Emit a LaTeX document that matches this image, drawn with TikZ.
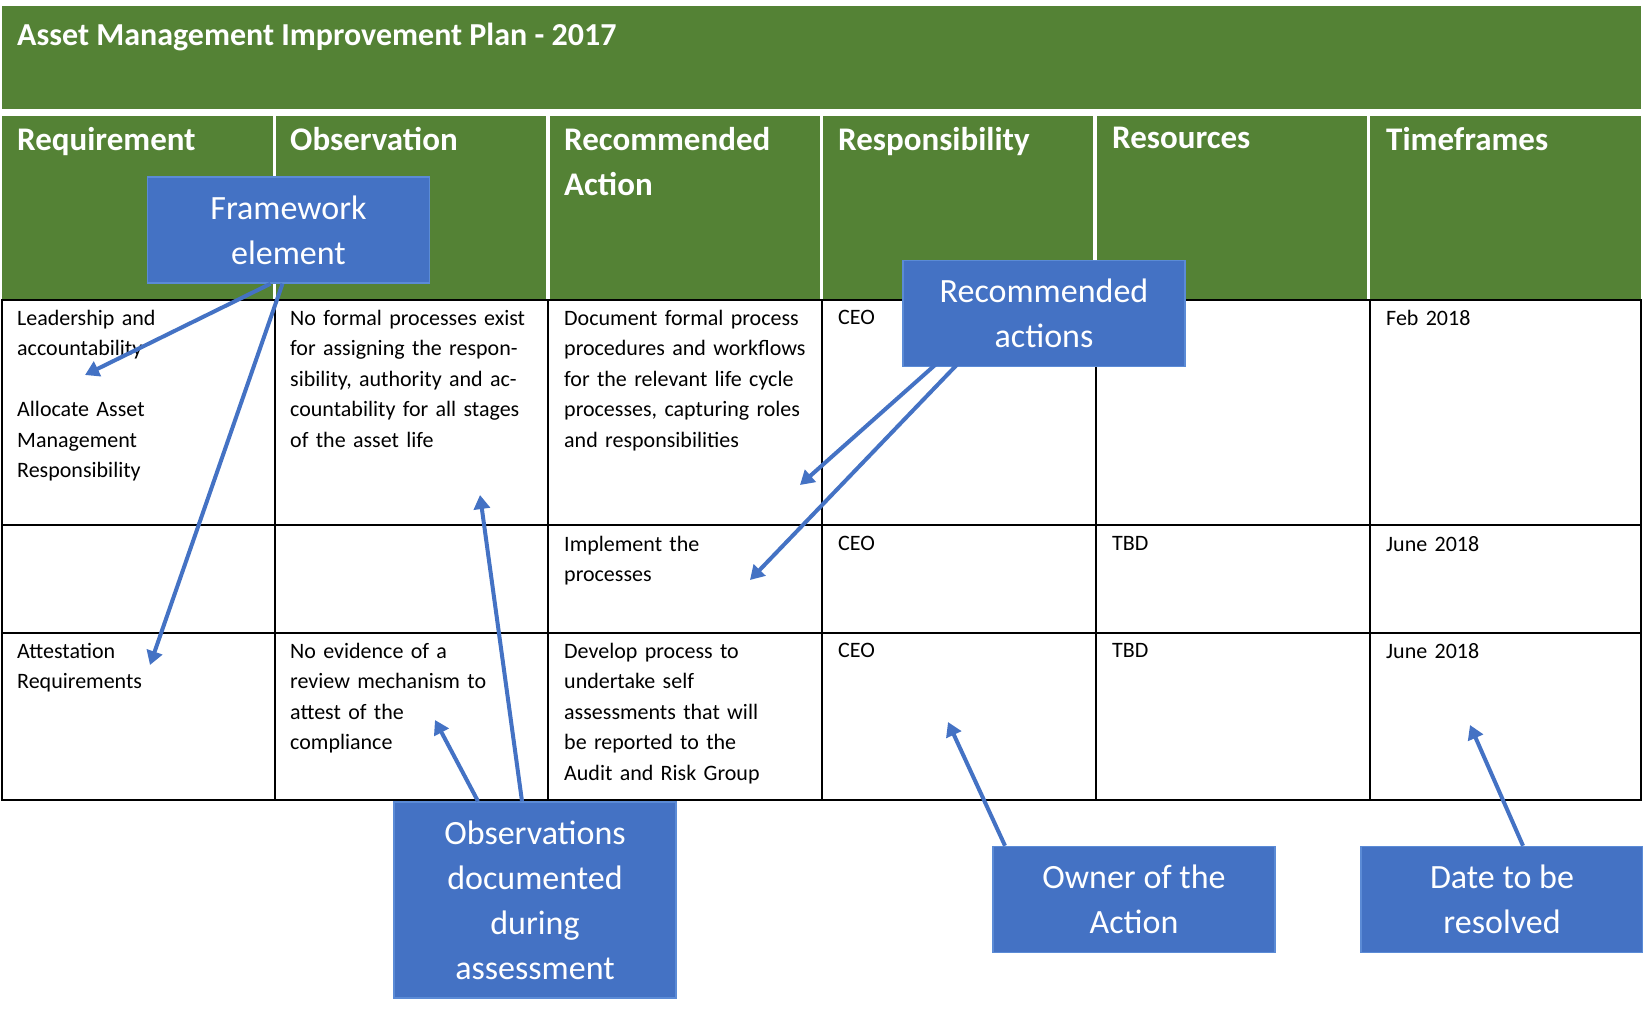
\documentclass[tikz,border=0pt]{standalone}
\usepackage{fontspec}
\setmainfont{Carlito}
\usetikzlibrary{arrows.meta}
\definecolor{grn}{HTML}{548235}
\definecolor{blu}{HTML}{4472C4}
\definecolor{bbord}{HTML}{5B8BD6}
\begin{document}
\begin{tikzpicture}[x=1pt,y=-1pt,
 cell/.style={anchor=north west,inner sep=0pt,text width=245pt,align=left,font=\fontsize{22}{30.5}\selectfont},
 head/.style={anchor=north west,inner sep=0pt,text width=250pt,align=left,text=white,font=\fontsize{33}{45}\selectfont\bfseries},
 callout/.style={draw=bbord,line width=1.5pt,fill=blu,text=white,align=center,font=\fontsize{34}{45}\selectfont},
 arr/.style={draw=blu,line width=4pt,-{Triangle[length=14pt,width=16pt]}}]
\useasboundingbox (0,0) rectangle (1643,1009);
\fill[white] (0,0) rectangle (1643,1009);
\fill[grn] (2,6) rectangle (1641,109);
\node[anchor=west,text=white,font=\fontsize{32}{38}\selectfont\bfseries,inner sep=0pt] (title) at (17,37) {Asset Management Improvement Plan - 2017};
\foreach \i/\a/\b in {1/2/273,2/276/546,3/550/820,4/823/1093,5/1097/1367,6/1370/1641}
  \fill[grn] (\a,116) rectangle (\b,300);
\draw[line width=1.5pt] (2,300) rectangle (1641,800);
\foreach \y in {525,633} \draw[line width=1.5pt] (2,\y) -- (1641,\y);
\foreach \x in {275,548,822,1096,1370} \draw[line width=1.5pt] (\x,300) -- (\x,800);
\node[head] (h1) at (17,127) {Requirement};
\node[head] (h2) at (290,127) {Observation};
\node[head] (h3) at (564,127) {Recommended\\Action};
\node[head] (h4) at (838,127) {Responsibility};
\node[head] (h5) at (1112,127) {Resources};
\node[head] (h6) at (1386,127) {Timeframes};
\node[cell] (c11) at (17,310) {Leadership and\\accountability\\[30.5pt]Allocate Asset\\Management\\Responsibility};
\node[cell] (c12) at (290,310) {No formal processes exist for assigning the responsibility, authority and accountability for all stages of the asset life};
\node[cell] (c13) at (564,310) {Document formal process procedures and workflows for the relevant life cycle processes, capturing roles and responsibilities};
\node[cell] (c14) at (838,310) {CEO};
\node[cell] (c16) at (1386,310) {Feb 2018};
\node[cell] (c23) at (564,536) {Implement the\\processes};
\node[cell] (c24) at (838,536) {CEO};
\node[cell] (c25) at (1112,536) {TBD};
\node[cell] (c26) at (1386,536) {June 2018};
\node[cell] (c31) at (17,643) {Attestation\\Requirements};
\node[cell] (c32) at (290,643) {No evidence of a\\review mechanism to\\attest of the\\compliance};
\node[cell] (c33) at (564,643) {Develop process to\\undertake self\\assessments that will\\be reported to the\\Audit and Risk Group};
\node[cell] (c34) at (838,643) {CEO};
\node[cell] (c35) at (1112,643) {TBD};
\node[cell] (c36) at (1386,643) {June 2018};
\node[callout,minimum width=282pt,minimum height=106pt] (fw) at (288.5,230) {Framework\\element};
\node[callout,minimum width=282pt,minimum height=106pt] (ra) at (1044,313.5) {Recommended\\actions};
\node[callout,minimum width=282pt,minimum height=196pt] (ob) at (535,900) {Observations\\documented\\during\\assessment};
\node[callout,minimum width=282pt,minimum height=106pt] (ow) at (1134,899.5) {Owner of the\\Action};
\node[callout,minimum width=282pt,minimum height=106pt] (dt) at (1502,899.5) {Date to be\\resolved};
\coordinate (t1) at (85,375); \coordinate (t2) at (150,665);
\coordinate (t3) at (800,485); \coordinate (t4) at (750,580);
\coordinate (t5) at (480,495); \coordinate (t6) at (435,720);
\coordinate (t7) at (948,722); \coordinate (t8) at (1470,725);
\draw[arr] ([xshift=-18pt]fw.south) -- (t1);
\draw[arr] ([xshift=-6pt]fw.south) -- (t2);
\draw[arr] ([xshift=-98pt,yshift=12pt]ra.south) -- (t3);
\draw[arr] ([xshift=-78pt,yshift=12pt]ra.south) -- (t4);
\draw[arr] ([xshift=-13pt]ob.north) -- (t5);
\draw[arr] ([xshift=-57pt]ob.north) -- (t6);
\draw[arr] ([xshift=-129pt]ow.north) -- (t7);
\draw[arr] ([xshift=21pt]dt.north) -- (t8);
\end{tikzpicture}
\end{document}
